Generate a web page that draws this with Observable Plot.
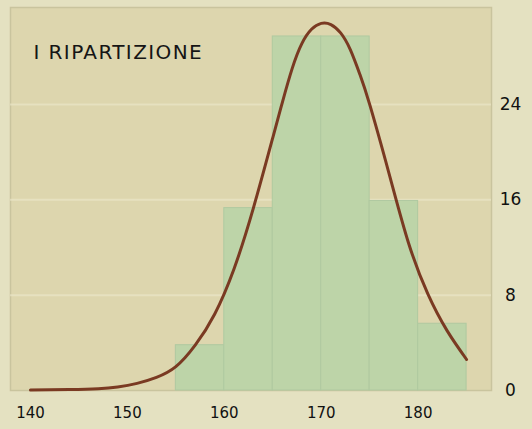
<!DOCTYPE html>
<html>
<head>
<meta charset="utf-8">
<script src="https://cdn.jsdelivr.net/npm/d3@7"></script>
<script src="https://cdn.jsdelivr.net/npm/@observablehq/plot@0.6"></script>
<style>
  html, body { margin: 0; padding: 0; background: #e4e1c1; }
  #chart { width: 532px; height: 429px; }
</style>
</head>
<body>
<div id="chart"></div>
<script>
// Histogram bins (stature classes, cm) and frequencies
const binStart = [155, 160, 165, 170, 175, 180];
const binEnd   = [160, 165, 170, 175, 180, 185];
const binValue = [3.8, 15.3, 29.7, 29.7, 15.9, 5.6];

// Fitted curve
const curveX = [140, 144, 147, 149, 151, 153, 155, 157, 159, 161, 163, 165, 166, 167, 168, 169, 170, 171, 172, 173, 174, 175, 177, 179, 181, 183, 185];
const curveY = [0.05, 0.08, 0.15, 0.3, 0.6, 1.1, 2.0, 3.8, 6.4, 10.2, 15.3, 21.2, 24.2, 27.0, 29.1, 30.3, 30.8, 30.7, 30.0, 28.6, 26.5, 24.0, 18.2, 12.4, 8.1, 5.0, 2.6];

const xTicks = [140, 150, 160, 170, 180];
const yTicks = [0, 8, 16, 24];
const title = "I RIPARTIZIONE";

const bins = binStart.map((s, i) => ({x1: s, x2: binEnd[i], y: binValue[i]}));
const curve = curveX.map((x, i) => ({x, y: curveY[i]}));

const chart = Plot.plot({
  width: 532,
  height: 429,
  marginLeft: 10,
  marginRight: 41,
  marginTop: 7,
  marginBottom: 39,
  style: {background: "#e4e1c1", fontFamily: "DejaVu Sans", color: "#111"},
  x: {domain: [137.94, 187.57]},
  y: {domain: [0, 32.13]},
  marks: [
    Plot.frame({fill: "#ddd6ae", stroke: "#c9c49e", strokeWidth: 1.5}),
    Plot.gridY(yTicks.slice(1), {stroke: "#ede8cb", strokeOpacity: 0.6, strokeWidth: 2}),
    Plot.rectY(bins, {x1: "x1", x2: "x2", y: "y", fill: "#bdd4a8", stroke: "#afc9a0", strokeWidth: 1}),
    Plot.line(curve, {x: "x", y: "y", stroke: "#7a3a22", strokeWidth: 3, curve: "natural"}),
    Plot.axisX({ticks: xTicks, tickSize: 0, tickPadding: 17, fontSize: 15, tickFormat: d => String(d), label: null}),
    Plot.axisY({ticks: yTicks, anchor: "right", tickSize: 0, tickPadding: 19, fontSize: 17, textAnchor: "middle", tickFormat: d => String(d), label: null}),
    Plot.text([title], {frameAnchor: "top-left", dx: 23, dy: 37, lineAnchor: "top", textAnchor: "start", fontSize: 20, fill: "#151515"})
  ]
});
chart.querySelectorAll("text").forEach(t => { if (t.textContent === title) t.setAttribute("letter-spacing", "1.4"); });
document.getElementById("chart").appendChild(chart);
</script>
</body>
</html>
